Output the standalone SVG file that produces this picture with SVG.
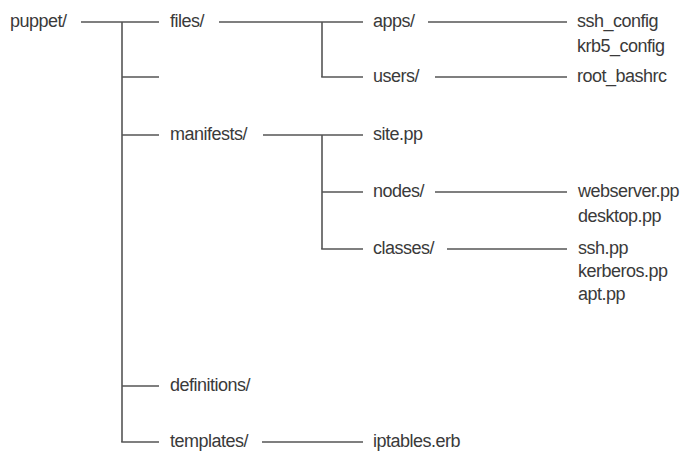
<svg xmlns="http://www.w3.org/2000/svg" width="681" height="453" viewBox="0 0 681 453">
<style>
text{font-family:"Liberation Sans",Arial,sans-serif;font-size:18px;fill:#3a3a3a;letter-spacing:-0.5px}
.c line{stroke:#555;stroke-width:1.6;fill:none}
</style>
<rect width="681" height="453" fill="#fff"/>
<g id="connectors" class="c">
<line x1="81" y1="22" x2="159" y2="22"/>
<line x1="122" y1="22" x2="122" y2="442"/>
<line x1="122" y1="77" x2="159" y2="77"/>
<line x1="122" y1="135" x2="159" y2="135"/>
<line x1="122" y1="386" x2="159" y2="386"/>
<line x1="121.2" y1="442" x2="159" y2="442"/>
<line x1="219" y1="22" x2="363" y2="22"/>
<line x1="322" y1="22" x2="322" y2="77"/>
<line x1="321.2" y1="77" x2="363" y2="77"/>
<line x1="428" y1="22" x2="567" y2="22"/>
<line x1="435" y1="77" x2="567" y2="77"/>
<line x1="263" y1="135" x2="363" y2="135"/>
<line x1="322" y1="135" x2="322" y2="249"/>
<line x1="322" y1="192" x2="363" y2="192"/>
<line x1="321.2" y1="249" x2="363" y2="249"/>
<line x1="435" y1="192" x2="567" y2="192"/>
<line x1="447" y1="249" x2="567" y2="249"/>
<line x1="262" y1="442" x2="363" y2="442"/>
</g>
<g id="puppet"><text x="10" y="27">puppet/</text></g>
<g id="files"><text x="170" y="27">files/</text></g>
<g id="apps"><text x="373" y="27">apps/</text></g>
<g id="apps-files"><text x="577" y="27">ssh_config</text><text x="577" y="52">krb5_config</text></g>
<g id="users"><text x="373" y="82">users/</text></g>
<g id="users-files"><text x="577" y="82">root_bashrc</text></g>
<g id="manifests"><text x="170" y="140">manifests/</text></g>
<g id="site"><text x="373" y="140">site.pp</text></g>
<g id="nodes"><text x="373" y="197">nodes/</text></g>
<g id="nodes-files"><text x="578" y="197">webserver.pp</text><text x="578" y="222">desktop.pp</text></g>
<g id="classes"><text x="373" y="254">classes/</text></g>
<g id="classes-files"><text x="578" y="254">ssh.pp</text><text x="578" y="277">kerberos.pp</text><text x="578" y="300">apt.pp</text></g>
<g id="definitions"><text x="170" y="391">definitions/</text></g>
<g id="templates"><text x="170" y="447">templates/</text></g>
<g id="iptables"><text x="373" y="447">iptables.erb</text></g>
</svg>
